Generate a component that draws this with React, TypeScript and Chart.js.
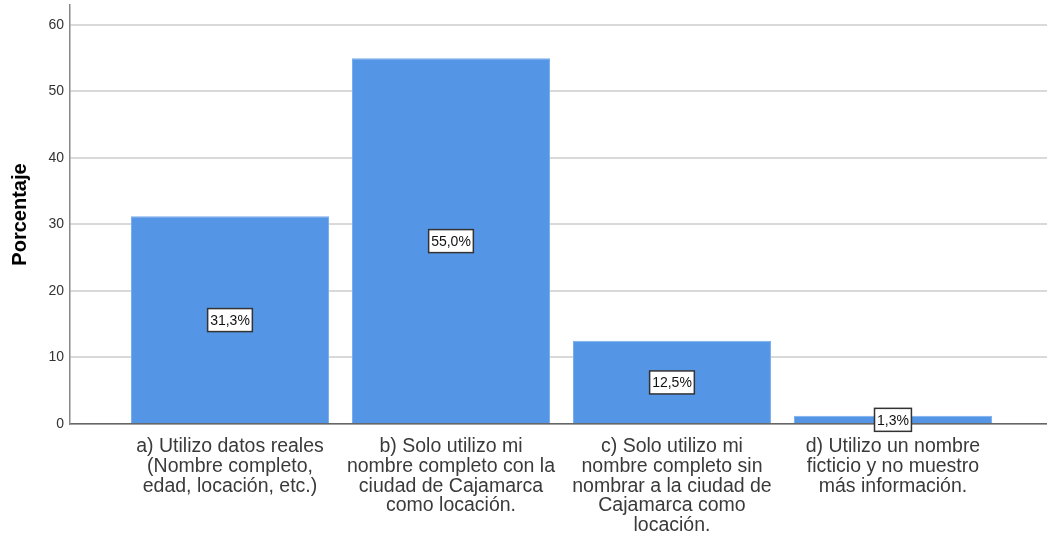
import React, { useEffect, useRef } from "react";
import { Chart, registerables } from "chart.js";

Chart.register(...registerables);

const categories: string[][] = [
  ["a) Utilizo datos reales", "(Nombre completo,", "edad, locación, etc.)"],
  ["b) Solo utilizo mi", "nombre completo con la", "ciudad de Cajamarca", "como locación."],
  ["c) Solo utilizo mi", "nombre completo sin", "nombrar a la ciudad de", "Cajamarca como", "locación."],
  ["d) Utilizo un nombre", "ficticio y no muestro", "más información."],
];
const percentages: number[] = [31.25, 55.0, 12.5, 1.25];
const valueLabels: string[] = ["31,3%", "55,0%", "12,5%", "1,3%"];
const yTicks: number[] = [0, 10, 20, 30, 40, 50, 60];

const FONT = "'Liberation Sans', Arial, sans-serif";

const boxLabels = {
  id: "boxLabels",
  afterDatasetsDraw(chart: any) {
    const ctx = chart.ctx;
    const meta = chart.getDatasetMeta(0);
    const yScale = chart.scales.y;
    ctx.save();
    ctx.font = `14px ${FONT}`;
    ctx.textAlign = "center";
    ctx.textBaseline = "middle";
    meta.data.forEach((bar: any, i: number) => {
      const text = valueLabels[i];
      const cx = bar.x;
      const cy = yScale.getPixelForValue(percentages[i] / 2);
      const w = ctx.measureText(text).width + 5;
      const h = 23;
      ctx.fillStyle = "#ffffff";
      ctx.fillRect(cx - w / 2, cy - h / 2, w, h);
      ctx.strokeStyle = "#333333";
      ctx.lineWidth = 1.5;
      ctx.strokeRect(cx - w / 2, cy - h / 2, w, h);
      ctx.fillStyle = "#111111";
      ctx.fillText(text, cx, cy + 1);
    });
    ctx.restore();
  },
};

export default function App() {
  const ref = useRef<HTMLCanvasElement | null>(null);
  useEffect(() => {
    document.body.style.margin = "0";
    if (!ref.current) return;
    const chart = new Chart(ref.current, {
      type: "bar",
      data: {
        datasets: [
          {
            data: percentages.map((v, i) => ({ x: i, y: v })),
            backgroundColor: "#5595e5",
            borderColor: "#7aaeee",
            borderWidth: 1,
            categoryPercentage: 1,
            barPercentage: 0.896,
          },
        ],
      },
      options: {
        animation: false,
        responsive: false,
        maintainAspectRatio: false,
        layout: { padding: { top: 5, left: 0, right: 0, bottom: 0 } },
        plugins: { legend: { display: false }, tooltip: { enabled: false } },
        scales: {
          x: {
            type: "linear",
            offset: false,
            min: -0.724,
            max: 3.697,
            afterBuildTicks: (axis: any) => {
              axis.ticks = categories.map((_, i) => ({ value: i }));
            },
            afterFit: (axis: any) => {
              axis.height = 112;
              axis.paddingLeft = 0;
              axis.paddingRight = 0;
            },
            grid: { display: false, drawTicks: false, offset: false },
            border: { color: "#666666", width: 1.5 },
            ticks: {
              autoSkip: false,
              maxRotation: 0,
              padding: 13,
              color: "#3a3a3a",
              font: { family: FONT, size: 19.5, lineHeight: 1.01 },
              callback: (v: any) => categories[Number(v)] ?? "",
            },
          },
          y: {
            min: 0,
            max: 63,
            afterBuildTicks: (axis: any) => {
              axis.ticks = yTicks.map((v) => ({ value: v }));
            },
            afterFit: (axis: any) => {
              axis.width = 70;
              axis.paddingTop = 0;
              axis.paddingBottom = 0;
            },
            grid: { color: "#d9d9d9", lineWidth: 2, drawTicks: false },
            border: { color: "#888888", width: 1.5 },
            ticks: {
              padding: 6,
              color: "#333333",
              font: { family: FONT, size: 14 },
            },
            title: {
              display: true,
              text: "Porcentaje",
              color: "#000000",
              font: { family: FONT, size: 20, weight: "bold" },
              padding: { top: 8, bottom: 6 },
            },
          },
        },
      },
      plugins: [boxLabels],
    } as any);
    return () => chart.destroy();
  }, []);
  return (
    <div style={{ position: "absolute", left: 0, top: 0, width: 1047, height: 536, background: "#fff" }}>
      <canvas ref={ref} width={1047} height={536} style={{ width: 1047, height: 536 }} />
    </div>
  );
}
